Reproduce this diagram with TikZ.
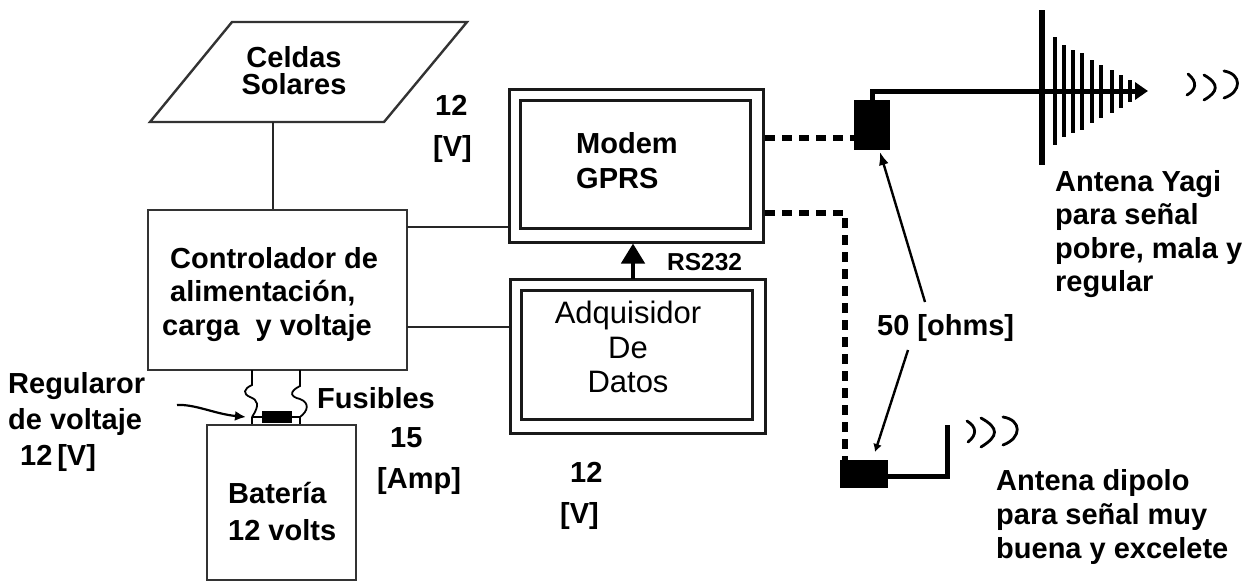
\documentclass[tikz,border=0pt]{standalone}
\usepackage{fontspec}
\setmainfont{Liberation Sans}
\usetikzlibrary{arrows.meta}
\tikzset{
 lbl/.style={font=\fontsize{29}{#1}\selectfont\bfseries,align=left,inner sep=0pt,text=black,anchor=north west},
 lbl/.default=34,
 gbox/.style={draw=black!80,line width=2.4pt},
 dbox/.style={draw=black!90,line width=3pt},
 wire/.style={draw=black!85,line width=2.2pt},
 thin arrow/.style={draw=black,line width=2.4pt,-{Latex[length=13pt,width=10pt]}},
 dash line/.style={draw=black,line width=5.5pt,dash pattern=on 10pt off 7pt},
 block/.style={fill=black,inner sep=0pt},
 fuse/.style={draw=black,line width=1.8pt},
 wave/.style={draw=black,line width=2.8pt,line cap=round}
}
\begin{document}
\begin{tikzpicture}[x=1pt,y=-1pt]
\useasboundingbox (0,0) rectangle (1251,584);
\fill[white] (0,0) rectangle (1251,584);
% Solar cells
\draw[gbox] (232,22) -- (467,22) -- (384,122) -- (150,122) -- cycle;
\node[lbl=27,align=center,anchor=north] (solar) at (294,46) {Celdas\\Solares};
\coordinate (solarb) at (273,122);
% Controller
\node[gbox,minimum width=259pt,minimum height=160pt,inner sep=0pt] (ctrl) at (277.5,290) {};
\node[lbl=33.5] (ctrlt) at (170,247) {Controlador de\\alimentación,\\\hspace*{-8pt}carga\ \ y voltaje};
\draw[wire] (solarb) -- (solarb |- ctrl.north);
% Modem
\node[dbox,minimum width=254pt,minimum height=153pt,inner sep=0pt] (modem) at (636,165.5) {};
\node[dbox,minimum width=230pt,minimum height=128pt,inner sep=0pt] (modemi) at (635,164) {};
\node[lbl=35] (modemt) at (576,132) {Modem\\GPRS};
% Adquisidor
\node[dbox,minimum width=255pt,minimum height=154pt,inner sep=0pt] (adq) at (637.5,356) {};
\node[dbox,minimum width=231pt,minimum height=129pt,inner sep=0pt] (adqi) at (636.5,354.5) {};
\node[lbl=34.5,font=\fontsize{31}{34.5}\selectfont,align=center,anchor=north] (adqt) at (628,301) {Adquisidor\\De\\Datos};
\coordinate (c1) at (407,227);
\coordinate (c2) at (407,327);
\draw[wire] (c1) -- (c1 -| modem.west);
\draw[wire] (c2) -- (c2 -| adq.west);
\coordinate (ad) at (633,279);
\draw[line width=4.5pt,-{Triangle[length=20pt,width=23pt]}] (ad) -- (ad |- modem.south);
\node[lbl,font=\fontsize{24.5}{28}\selectfont\bfseries] (rs) at (667,253) {RS232};
% Voltage labels
\node[lbl=41] (v1) at (433,95) {\hspace*{2pt}12\\{}[V]};
\node[lbl=41] (v2) at (560,462) {\hspace*{10pt}12\\{}[V]};
% Battery
\node[gbox,minimum width=149pt,minimum height=155pt,inner sep=0pt] (bat) at (281.5,502.5) {};
\node[lbl=37] (batt) at (228,482) {Batería\\12 volts};
% Regulator + fuses
\node[block,minimum width=30pt,minimum height=12pt] (reg) at (277,417) {};
\coordinate (fa) at (252,370);
\coordinate (fb) at (300,370);
\coordinate (ra) at (252,417);
\coordinate (rb) at (300,417);
\draw[fuse] (fa) -- (252,385) .. controls (243,389) and (243,394) .. (250,397) .. controls (258,400) and (260,405) .. (ra);
\draw[fuse] (fb) -- (300,386) .. controls (288,392) and (291,397) .. (300,399) .. controls (310,403) and (308,411) .. (rb);
\draw[fuse] (ra) -- (reg.west) (reg.east) -- (rb);
\draw[fuse] (ra) -- (ra |- bat.north);
\draw[fuse] (rb) -- (rb |- bat.north);
\coordinate (regtail) at (177,405);
\coordinate (regtip) at (246,417);
\draw[line width=2.2pt,-{Latex[length=11pt,width=10pt]}] (regtail) .. controls (195,404) and (215,414) .. (regtip);
\node[lbl=36] (regl) at (8,372) {Regularor\\de voltaje\\\hspace*{12pt}12\,[V]};
\node[lbl] (fus) at (317,387) {Fusibles};
\node[lbl=41] (amp) at (377,427) {\hspace*{13pt}15\\{}[Amp]};
% Yagi
\node[block,minimum width=36pt,minimum height=50pt] (yb) at (872,125) {};
\coordinate (ya) at (872,91);
\coordinate (ytip) at (1148,91);
\draw[line width=5pt,-{Triangle[length=13pt,width=17pt]}] (yb.north) -- (ya) -- (ytip);
\draw[line width=6.5pt] (1042,10) -- (1042,165);
\foreach \x/\a/\b in {1055/37/145,1064/45/137,1073/50/133,1082/53/130,1092/60/123,1101/65/118,1112/70/113,1121/75/108,1130/80/102}{
  \draw[line width=4.5pt] (\x,\a) -- (\x,\b);
}
\draw[wave] (1188,74) .. controls (1198,82) and (1196,90) .. (1187,95);
\draw[wave] (1204,75) .. controls (1220,84) and (1218,92) .. (1204,100);
\draw[wave] (1224,71) .. controls (1242,74) and (1242,92) .. (1224,98);
\node[lbl=33.5] (yagi) at (1055,170) {Antena Yagi\\para señal\\pobre, mala y\\regular};
% Dipole
\node[block,minimum width=48pt,minimum height=28pt] (db) at (864,474) {};
\coordinate (dc) at (947,476);
\coordinate (dt) at (947,425);
\draw[line width=5pt] (db.east |- dc) -- (dc) -- (dt);
\draw[wave] (967,421) .. controls (977,427) and (977,435) .. (968,442);
\draw[wave] (981,418) .. controls (999,428) and (999,436) .. (981,447);
\draw[wave] (1003,417) .. controls (1022,420) and (1022,438) .. (1003,445);
\node[lbl=34] (dip) at (996,469) {Antena dipolo\\para señal muy\\buena y excelete};
% dashed feeds
\coordinate (dm) at (765,213);
\coordinate (dk) at (845,213);
\coordinate (dn) at (765,138);
\draw[dash line] (dn) -- (dn -| yb.west);
\draw[dash line] (dm) -- (dk) -- (dk |- db.north);
% 50 ohm
\node[lbl] (ohm) at (877,314) {50 [ohms]};
\coordinate (oa) at (925,302);
\coordinate (ob) at (880,152);
\coordinate (oc) at (908,350);
\coordinate (od) at (875,452);
\draw[thin arrow] (oa) -- (ob);
\draw[thin arrow,-{Latex[length=8pt,width=9pt]}] (oc) -- (od);
\end{tikzpicture}
\end{document}
